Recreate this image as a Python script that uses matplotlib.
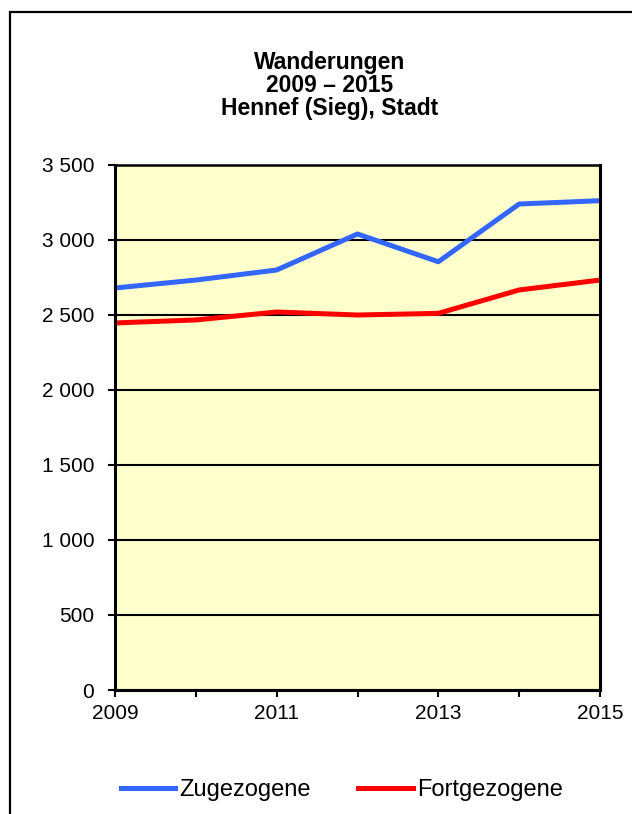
import numpy as np
import matplotlib.pyplot as plt
from matplotlib.patches import Rectangle

plt.rcParams['font.family'] = ['Liberation Sans', 'DejaVu Sans']

years = [2009, 2010, 2011, 2012, 2013, 2014, 2015]
zugezogene = [2680, 2733, 2800, 3040, 2855, 3240, 3262]
fortgezogene = [2447, 2467, 2520, 2500, 2511, 2667, 2733]
year_labels = ['2009', '', '2011', '', '2013', '', '2015']
y_ticks = [0, 500, 1000, 1500, 2000, 2500, 3000, 3500]

fig = plt.figure(figsize=(6.32, 8.14), dpi=100)
ax = fig.add_axes([115/632, 1 - 690/814, 485/632, 525/814])

# outer frame (only left/top visible in original)
fig.patches.append(Rectangle((10/632, -0.1), 1.2, 1 - 12/814 + 0.1,
                             transform=fig.transFigure, fill=False,
                             edgecolor='black', linewidth=1.6))

ax.set_facecolor('#FFFFCC')
ax.plot(years, zugezogene, color='#3366FF', linewidth=3.6, label='Zugezogene')
ax.plot(years, fortgezogene, color='#FF0000', linewidth=3.6, label='Fortgezogene')

ax.set_xlim(2009, 2015)
ax.set_ylim(0, 3500)
ax.set_yticks(y_ticks)
ax.set_yticklabels([f'{v:,}'.replace(',', ' ') for v in y_ticks])
ax.set_xticks(years)
ax.set_xticklabels(year_labels)
ax.yaxis.grid(True, color='black', linewidth=1.5)
ax.set_axisbelow(True)
ax.tick_params(axis='both', direction='out', length=5, width=1.5,
               labelsize=15, colors='black')
ax.tick_params(axis='x', pad=5)
ax.tick_params(axis='y', pad=10)
for side in ['left', 'bottom', 'right']:
    ax.spines[side].set_linewidth(2.2)
ax.spines['top'].set_linewidth(1.8)

fig.text(330/632, 1 - 85/814, 'Wanderungen\n2009 – 2015\nHennef (Sieg), Stadt',
         ha='center', va='center', fontsize=16.5, fontweight='bold',
         linespacing=1.0)

fig.legend(loc='center', bbox_to_anchor=(342/632, 1 - 790/814), ncol=2,
           frameon=False, fontsize=17, handlelength=2.3, handletextpad=0.2,
           columnspacing=2.0)

fig.savefig('out.png', dpi=100)
